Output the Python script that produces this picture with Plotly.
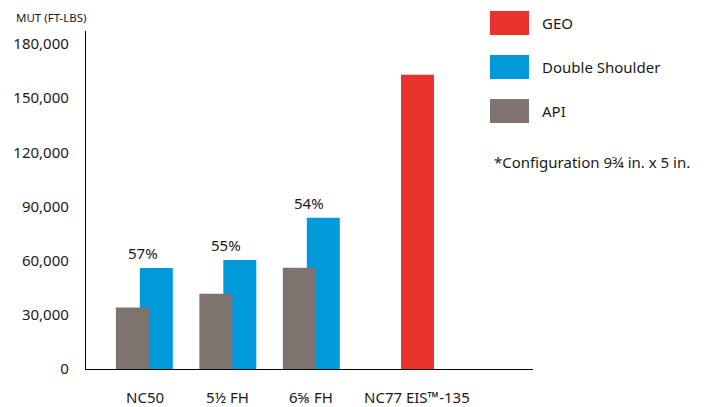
import plotly.graph_objects as go

# ---- data ----
categories = ["NC50", "5½ FH", "6⅝ FH", "NC77 EIS™-135"]
api_values = [34000, 41700, 56100, None]
double_shoulder_values = [56000, 60400, 83800, None]
geo_values = [None, None, None, 163000]
percent_labels = ["57%", "55%", "54%", None]
series_names = ["GEO", "Double Shoulder", "API"]
y_ticks = [0, 30000, 60000, 90000, 120000, 150000, 180000]
footnote = "*Configuration 9¾ in. x 5 in."
y_title = "MUT (FT-LBS)"

# ---- style ----
C_API = "#7f736f"
C_DS = "#0099da"
C_GEO = "#e8322a"
FONT = "Noto Sans"
TXT = "#1a1a1a"
W = 709
H = 407
ML, MR, MT, MB = 86, 176, 31, 38
BAR_W = 0.395
API_OFF = -0.343
DS_OFF = -0.056
GEO_OFF = 0.072

def px(x):
    return (x - ML) / (W - ML - MR)

def py(y):
    return (H - MB - y) / (H - MT - MB)

fig = go.Figure()
fig.add_trace(go.Bar(x=categories, y=double_shoulder_values, name=series_names[1],
                     marker=dict(color=C_DS, line=dict(width=0)), width=BAR_W, offset=DS_OFF))
fig.add_trace(go.Bar(x=categories, y=api_values, name=series_names[2],
                     marker=dict(color=C_API, line=dict(width=0)), width=BAR_W, offset=API_OFF))
fig.add_trace(go.Bar(x=categories, y=geo_values, name=series_names[0],
                     marker=dict(color=C_GEO, line=dict(width=0)), width=BAR_W, offset=GEO_OFF))

annotations = []
# percent labels above groups
for i, (cat, lab, v) in enumerate(zip(categories, percent_labels, double_shoulder_values)):
    if lab:
        annotations.append(dict(x=i, y=v, xref="x", yref="y", text=lab, showarrow=False,
                                yanchor="bottom", yshift=3, xshift=-2,
                                font=dict(family=FONT, size=15, color=TXT)))
# category labels
for i, cat in enumerate(categories):
    xpos = i
    if geo_values[i] is not None and api_values[i] is None:
        xpos = i + GEO_OFF + BAR_W / 2
    annotations.append(dict(x=xpos, y=0, xref="x", yref="y", text=cat, showarrow=False,
                            yanchor="middle", yshift=-28,
                            font=dict(family=FONT, size=15, color=TXT)))
# axis title
annotations.append(dict(x=px(14), y=py(17), xref="paper", yref="paper", text=y_title,
                        showarrow=False, xanchor="left", yanchor="middle",
                        font=dict(family=FONT, size=11.5, color=TXT)))
# legend
shapes = []
legend_colors = [C_GEO, C_DS, C_API]
legend_tops = [11, 55, 99]
for name, col, top in zip(series_names, legend_colors, legend_tops):
    shapes.append(dict(type="rect", xref="paper", yref="paper",
                       x0=px(490), x1=px(529), y0=py(top + 24), y1=py(top),
                       fillcolor=col, line=dict(width=0)))
    annotations.append(dict(x=px(540), y=py(top + 12), xref="paper", yref="paper",
                            text=name, showarrow=False, xanchor="left", yanchor="middle",
                            font=dict(family=FONT, size=15, color=TXT)))
annotations.append(dict(x=px(492), y=py(162), xref="paper", yref="paper", text=footnote,
                        showarrow=False, xanchor="left", yanchor="middle",
                        font=dict(family=FONT, size=15, color=TXT)))

y_top = 180000 / 325 * 338
fig.update_layout(
    width=W, height=H,
    margin=dict(l=ML, r=MR, t=MT, b=MB),
    barmode="overlay",
    showlegend=False,
    plot_bgcolor="white", paper_bgcolor="white",
    annotations=annotations, shapes=shapes,
    font=dict(family=FONT, size=15, color=TXT),
)
fig.update_xaxes(range=[-0.7006, 4.653], showticklabels=False, showgrid=False,
                 showline=True, linecolor="black", linewidth=1.3, ticks="", zeroline=False)
fig.update_yaxes(range=[0, y_top], tickvals=y_ticks, tickformat=",d", showgrid=False,
                 showline=True, linecolor="black", linewidth=1.3, ticks="", zeroline=False,
                 ticklabelstandoff=13, tickfont=dict(family=FONT, size=15, color=TXT))

fig.write_html("out.html", config={"displayModeBar": False},
               post_script="document.body.style.margin='0';document.body.style.overflow='hidden';")
